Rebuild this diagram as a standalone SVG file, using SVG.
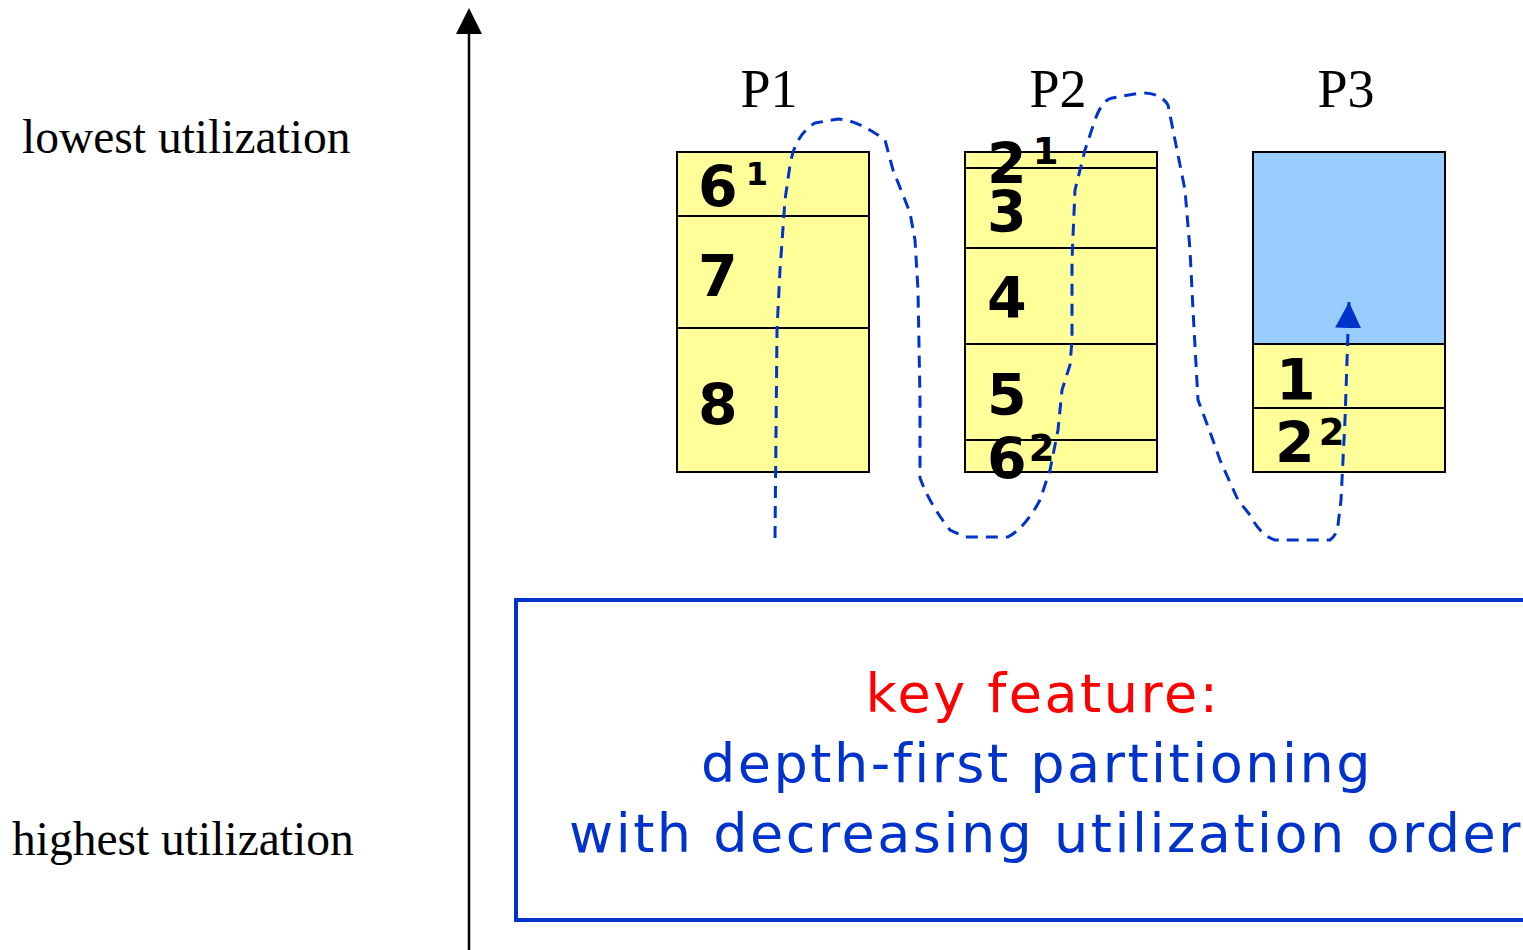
<svg xmlns="http://www.w3.org/2000/svg" width="1523" height="950" viewBox="0 0 1523 950">
<style>
.lbl{font-family:"Liberation Serif",serif;fill:#000}
.num{font-family:"DejaVu Sans",Verdana,sans-serif;font-weight:bold;font-size:57px;fill:#000}
.sup{font-size:37px}
.cell{fill:#ffff99;stroke:#000;stroke-width:2}
.div{stroke:#000;stroke-width:2}
.path{fill:none;stroke:#0033cc;stroke-width:3;stroke-dasharray:12 8}
.key{font-family:"DejaVu Sans",Verdana,sans-serif;font-size:54px;letter-spacing:2.5px;text-anchor:middle}
</style>
<defs>
<marker id="ah" viewBox="0 0 10 10" refX="10" refY="5" markerWidth="26" markerHeight="26" markerUnits="userSpaceOnUse" orient="auto"><path d="M0,0 L10,5 L0,10 Z" fill="#0033cc"/></marker>
</defs>
<rect width="1523" height="950" fill="#fff"/>
<g id="axis">
<line x1="469" y1="950" x2="469" y2="30" stroke="#000" stroke-width="2.5"/>
<polygon points="469,8 456,34 482,34" fill="#000"/>
<text class="lbl" x="22" y="153" font-size="47.5">lowest utilization</text>
<text class="lbl" x="12" y="855" font-size="47.5">highest utilization</text>
</g>
<g id="P1">
<text class="lbl" x="769" y="107" font-size="54" text-anchor="middle">P1</text>
<rect class="cell" x="677" y="152" width="192" height="320"/>
<line class="div" x1="677" y1="216" x2="869" y2="216"/>
<line class="div" x1="677" y1="328" x2="869" y2="328"/>
<text class="num" x="698" y="207">6<tspan font-size="32" dx="8" dy="-22">1</tspan></text>
<text class="num" x="698" y="296">7</text>
<text class="num" x="698" y="425">8</text>
</g>
<g id="P2">
<text class="lbl" x="1058" y="107" font-size="54" text-anchor="middle">P2</text>
<rect class="cell" x="965" y="152" width="192" height="320"/>
<line class="div" x1="965" y1="168" x2="1157" y2="168"/>
<line class="div" x1="965" y1="248" x2="1157" y2="248"/>
<line class="div" x1="965" y1="344" x2="1157" y2="344"/>
<line class="div" x1="965" y1="440" x2="1157" y2="440"/>
<text class="num" x="987" y="184">2<tspan class="sup" dx="6" dy="-20">1</tspan></text>
<text class="num" x="987" y="232">3</text>
<text class="num" x="987" y="318">4</text>
<text class="num" x="987" y="479">6<tspan class="sup" dx="2" dy="-18">2</tspan></text>
<text class="num" x="987" y="415">5</text>
</g>
<g id="P3">
<text class="lbl" x="1346" y="107" font-size="54" text-anchor="middle">P3</text>
<rect x="1253" y="152" width="192" height="192" fill="#99ccff" stroke="#000" stroke-width="2"/>
<rect class="cell" x="1253" y="344" width="192" height="128"/>
<line class="div" x1="1253" y1="408" x2="1445" y2="408"/>
<text class="num" x="1276" y="400">1</text>
<text class="num" x="1275" y="463">2<tspan class="sup" dx="4" dy="-18">2</tspan></text>
</g>
<g id="connectors">
<path class="path" marker-end="url(#ah)" d="M775,538 L777,330 L780,270 L785,200 L790,165 Q795,135 815,123 L838,119 Q858,120 885,140 L893,170 L905,200 L910,213 L915,240 L918,290 L920,400 L920,478 Q930,505 950,530 L965,537 L1008,537 Q1025,528 1040,500 L1050,470 L1058,430 L1062,390 L1070,365 L1072,340 L1072,260 L1075,190 L1085,150 L1095,120 Q1102,100 1112,98 L1140,93 Q1160,92 1168,105 L1175,140 L1180,165 L1185,190 L1190,250 L1193,310 L1198,400 L1210,432 L1220,460 L1238,500 L1250,515 Q1260,535 1275,540 L1330,540 Q1337,535 1338,525 L1341,500 L1345,420 L1349,302"/>
</g>
<g id="keybox">
<rect x="516" y="600" width="1020" height="320" fill="none" stroke="#0033cc" stroke-width="4"/>
<text class="key" x="1043" y="712" fill="#ff0000">key feature:</text>
<text class="key" x="1037" y="782" fill="#0033cc">depth-first partitioning</text>
<text class="key" x="1046" y="852" fill="#0033cc">with decreasing utilization order</text>
</g>
</svg>
